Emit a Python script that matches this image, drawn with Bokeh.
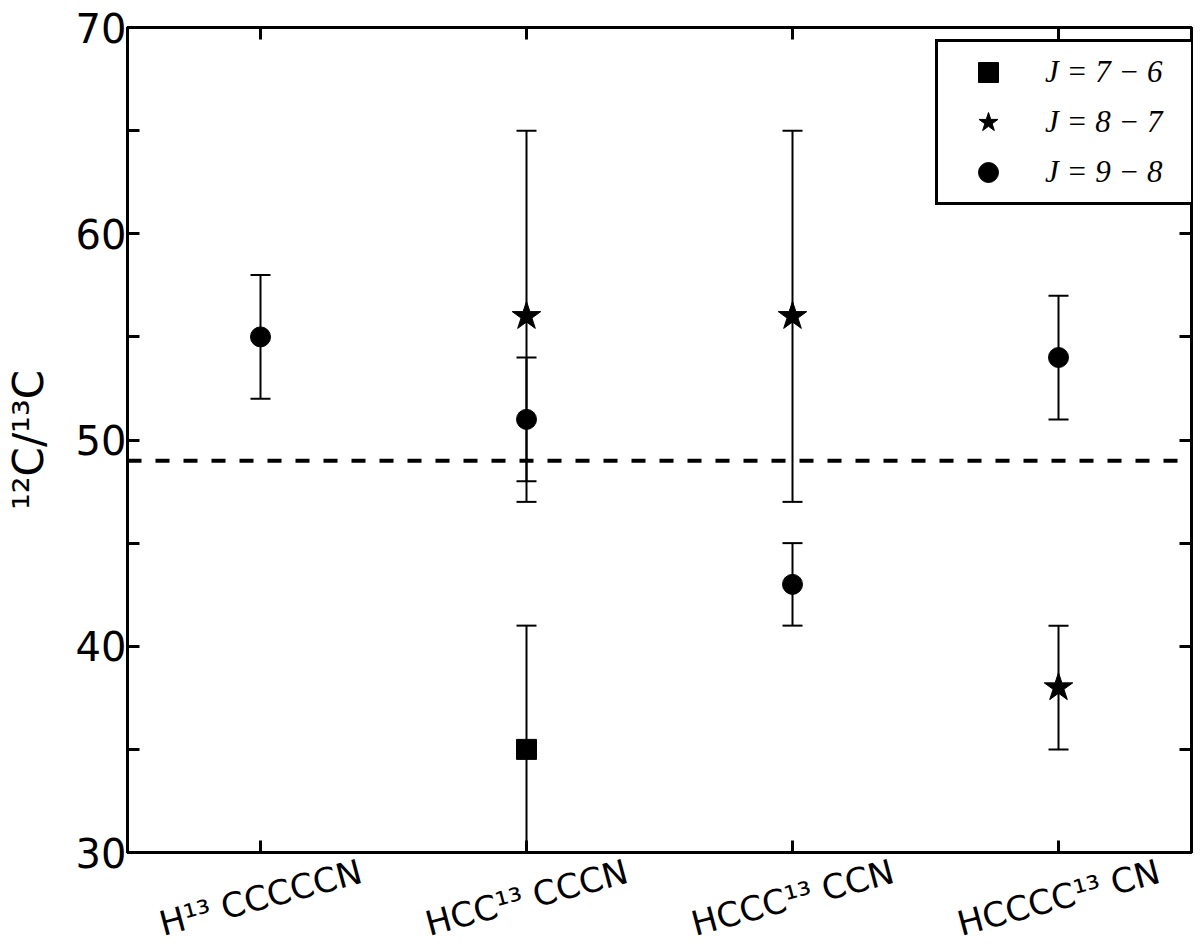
from bokeh.plotting import figure
from bokeh.layouts import column
from bokeh.models import (FixedTicker, LinearAxis, Span, Legend, LegendItem, Range1d,
                          ColumnDataSource)
from bokeh.embed import file_html
from bokeh.resources import INLINE
from bokeh.core.properties import value

# ---------------- data ----------------
molecules = ["H¹³ CCCCCN", "HCC¹³ CCCN", "HCCC¹³ CCN", "HCCCC¹³ CN"]
mol_pos = [1, 2, 3, 4]

j76_x = [2]
j76_y = [35]
j76_lo = [29]
j76_hi = [41]

j87_x = [2, 3, 4]
j87_y = [56, 56, 38]
j87_lo = [47, 47, 35]
j87_hi = [65, 65, 41]

j98_x = [1, 2, 3, 4]
j98_y = [55, 51, 43, 54]
j98_lo = [52, 48, 41, 51]
j98_hi = [58, 54, 45, 57]

reference_ratio = 49

y_ticks = [30, 35, 40, 45, 50, 55, 60, 65, 70]
y_tick_labels = {30: "30", 35: "", 40: "40", 45: "", 50: "50", 55: "", 60: "60", 65: "", 70: "70"}

series_labels = ["J = 7 − 6", "J = 8 − 7", "J = 9 − 8"]

# ---------------- main figure ----------------
p = figure(width=1200, height=880, x_range=(0.5, 4.5), y_range=(30, 70),
           output_backend="svg", toolbar_location=None,
           min_border_left=125, min_border_right=9, min_border_top=27,
           min_border_bottom=28)
p.xgrid.visible = False
p.ygrid.visible = False
p.outline_line_color = "black"
p.outline_line_width = 3
p.background_fill_color = "white"
p.border_fill_color = "white"

blank_x = {t: "" for t in mol_pos}
blank_y = {t: "" for t in y_ticks}

# bottom axis: tick marks only (names are drawn in the strip below)
xa = p.xaxis[0]
xa.ticker = FixedTicker(ticks=mol_pos)
xa.major_label_overrides = blank_x
xa.major_label_text_font_size = "0px"
xa.major_label_standoff = 0
xa.major_tick_in = 12
xa.major_tick_out = 0
xa.major_tick_line_width = 3
xa.minor_tick_line_color = None
xa.axis_line_width = 3
xa.axis_line_color = "black"
xa.major_tick_line_color = "black"

# left axis
ya = p.yaxis[0]
ya.ticker = FixedTicker(ticks=y_ticks)
ya.major_label_overrides = y_tick_labels
ya.major_label_text_font = "DejaVu Sans"
ya.major_label_text_font_size = "40px"
ya.major_label_text_color = "black"
ya.major_label_standoff = 1
ya.major_tick_in = 12
ya.major_tick_out = 0
ya.major_tick_line_width = 3
ya.major_tick_line_color = "black"
ya.minor_tick_line_color = None
ya.axis_line_width = 3
ya.axis_line_color = "black"
ya.axis_label = "¹²C/¹³C"
ya.axis_label_text_font = "DejaVu Sans"
ya.axis_label_text_font_size = "42px"
ya.axis_label_text_font_style = "normal"
ya.axis_label_text_color = "black"
ya.axis_label_standoff = 20

# right and top axes (ticks only)
ra = LinearAxis(ticker=FixedTicker(ticks=y_ticks), major_label_overrides=blank_y,
                major_label_standoff=0, major_tick_in=12, major_tick_out=0,
                major_tick_line_width=3, minor_tick_line_color=None, axis_line_width=3)
p.add_layout(ra, "right")
ta = LinearAxis(ticker=FixedTicker(ticks=mol_pos), major_label_overrides=blank_x,
                major_label_standoff=0, major_tick_in=12, major_tick_out=0,
                major_tick_line_width=3, minor_tick_line_color=None, axis_line_width=3)
p.add_layout(ta, "above")

# reference dashed line
p.add_layout(Span(location=reference_ratio, dimension="width", line_color="black",
                  line_width=4, line_dash="14 14"))

# ---------------- error bars + markers ----------------
def errbars(xs, lo, hi):
    p.segment(x0=xs, y0=lo, x1=xs, y1=hi, line_color="black", line_width=2)
    p.scatter(x=xs, y=hi, marker="dash", size=20, line_color="black", line_width=2)
    p.scatter(x=xs, y=lo, marker="dash", size=20, line_color="black", line_width=2)

errbars(j76_x, j76_lo, j76_hi)
errbars(j87_x, j87_lo, j87_hi)
errbars(j98_x, j98_lo, j98_hi)

r76 = p.scatter(x=j76_x, y=j76_y, marker="square", size=20,
                fill_color="black", line_color="black")
r87 = p.scatter(x=j87_x, y=j87_y, marker="star", size=30,
                fill_color="black", line_color="black")
r98 = p.scatter(x=j98_x, y=j98_y, marker="circle", size=20,
                fill_color="black", line_color="black")

# ---------------- legend ----------------
legend = Legend(items=[LegendItem(label=series_labels[0], renderers=[r76]),
                       LegendItem(label=series_labels[1], renderers=[r87]),
                       LegendItem(label=series_labels[2], renderers=[r98])],
                location=(808, 647), glyph_width=90, glyph_height=50,
                label_standoff=12, label_width=141, label_height=50,
                padding=5, spacing=0, margin=0,
                border_line_color="black", border_line_width=3, border_line_alpha=1,
                background_fill_color="white", background_fill_alpha=1,
                label_text_font="Liberation Serif", label_text_font_style="italic",
                label_text_font_size="31px", label_text_color="black")
p.add_layout(legend)

# ---------------- transparent strip with rotated category names ----------------
p2 = figure(width=1200, height=100, x_range=p.x_range, y_range=Range1d(-1, 1),
            output_backend="svg", toolbar_location=None,
            x_axis_type=None, y_axis_type=None,
            min_border_left=125, min_border_right=9, min_border_top=6,
            min_border_bottom=0)
p2.margin = (-36, 0, 0, 0)
p2.xgrid.visible = False
p2.ygrid.visible = False
p2.outline_line_color = None
p2.background_fill_alpha = 0
p2.border_fill_alpha = 0

name_src = ColumnDataSource(data=dict(x=mol_pos, y=[0] * len(mol_pos), text=molecules))
p2.text(x="x", y="y", text="text", source=name_src, angle=0.2618,
        text_align="center", text_baseline="middle",
        text_font=value("DejaVu Sans"), text_font_size="34px", text_color="black")

layout = column(p, p2, spacing=0)
open("out.html", "w").write(file_html(layout, INLINE))
